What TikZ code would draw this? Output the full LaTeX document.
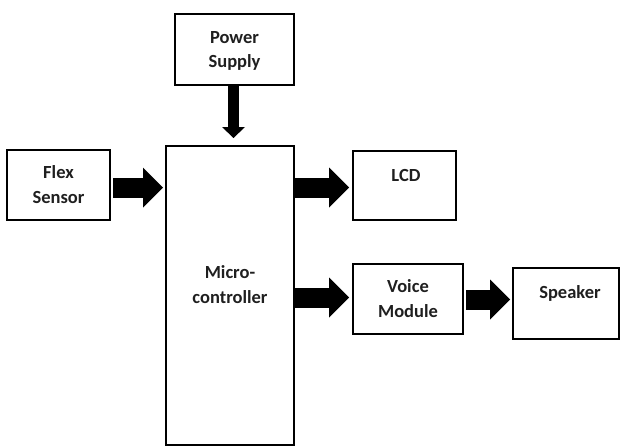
\documentclass[tikz,border=0pt]{standalone}
\usepackage{fontspec}
\setmainfont{Carlito}
\usetikzlibrary{arrows.meta,calc}
\begin{document}
\begin{tikzpicture}[x=1pt,y=-1pt,
  blockbox/.style={draw=black,line width=2pt,rectangle,inner sep=0pt,outer sep=0pt},
  lbl/.style={font=\fontsize{18.5}{24.5}\selectfont\bfseries,align=center,inner sep=0pt,anchor=base,text=black!88},
  fatarrow/.style={line width=20pt,-{Triangle[length=20pt,width=40pt,line width=0pt]}},
  thinfat/.style={line width=11pt,-{Triangle[length=11pt,width=23pt,line width=0pt]}}]
\useasboundingbox (0,0) rectangle (622,447);
% boxes
\node[blockbox,minimum width=119pt,minimum height=71pt] (power) at (234.5,49.5) {};
\node[blockbox,minimum width=128pt,minimum height=299pt] (micro) at (230,295.5) {};
\node[blockbox,minimum width=103pt,minimum height=70pt] (flex) at (58.5,185) {};
\node[blockbox,minimum width=103pt,minimum height=69pt] (lcd) at (404.5,185.5) {};
\node[blockbox,minimum width=110pt,minimum height=70pt] (voice) at (408,299) {};
\node[blockbox,minimum width=106pt,minimum height=71pt] (spk) at (566,303.5) {};
% labels (base = baseline of last line)
\node[lbl] (tpower) at (234.5,67.5) {Power\\Supply};
\node[lbl] (tmicro) at (230,303) {Micro-\\controller};
\node[lbl] (tflex) at (58.5,203) {Flex\\Sensor};
\node[lbl] (tlcd) at (406,181) {LCD};
\node[lbl] (tvoice) at (408,317) {Voice\\Module};
\node[lbl] (tspk) at (570,298) {Speaker};
% arrows
\draw[thinfat,shorten >=8pt] ($(power.south)+(-1,0)$) -- ($(power.south |- micro.north)+(-1,0)$);
\draw[fatarrow,shorten <=3pt,shorten >=3pt] ($(flex.east)+(0,2.5)$) -- ($(flex.east -| micro.west)+(0,2.5)$);
\draw[fatarrow,shorten <=1pt,shorten >=4pt] ($(micro.east |- lcd.west)+(0,2)$) -- ($(lcd.west)+(0,2)$);
\draw[fatarrow,shorten <=1pt,shorten >=4pt] ($(micro.east |- voice.west)+(0,-1.5)$) -- ($(voice.west)+(0,-1.5)$);
\draw[fatarrow,shorten <=3pt,shorten >=3pt] ($(voice.east)+(0,0.5)$) -- ($(voice.east -| spk.west)+(0,0.5)$);
\end{tikzpicture}
\end{document}
